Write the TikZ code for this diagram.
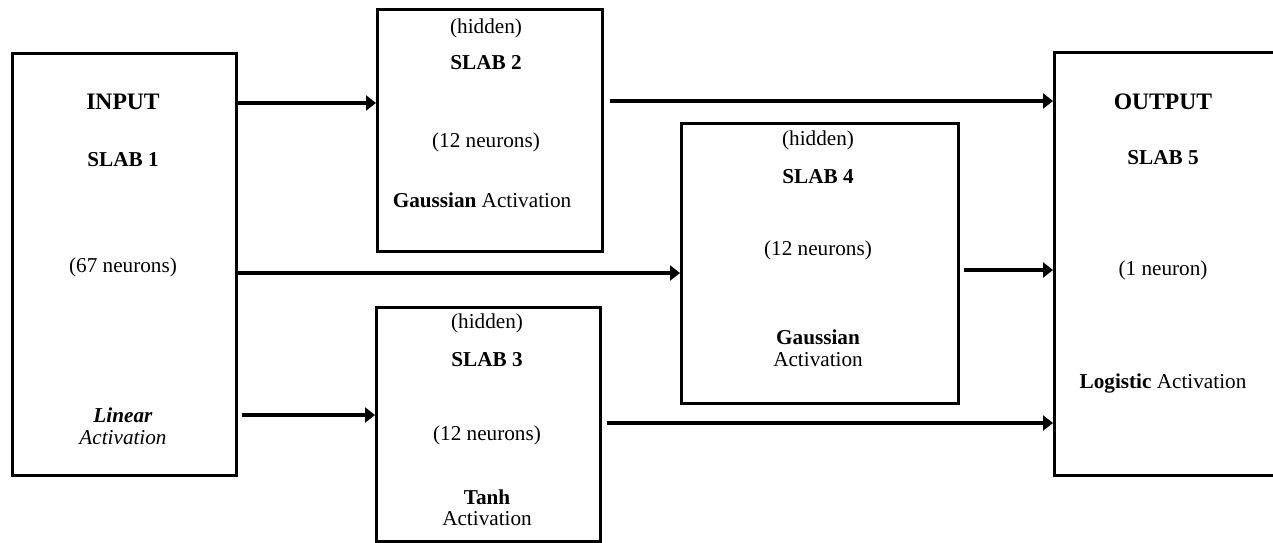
\documentclass[tikz,border=0pt]{standalone}
\usepackage{fontspec}
\setmainfont{Liberation Serif}
\usetikzlibrary{arrows.meta}
\begin{document}
\begin{tikzpicture}[x=0.5pt,y=-0.5pt,
  slab/.style={draw, line width=1.3pt, inner sep=0pt, anchor=north west},
  txt/.style={inner sep=0pt, anchor=center, font=\fontsize{10.6}{12.7}\selectfont, align=center},
  big/.style={inner sep=0pt, anchor=center, font=\fontsize{11.8}{14}\selectfont\bfseries},
  arr/.style={line width=2pt, -{Triangle[length=5pt,width=7.5pt]}}]
\useasboundingbox (0,0) rectangle (1273,542);
\clip (0,0) rectangle (1273,542);
% boxes
\node[slab, minimum width=112pt, minimum height=211pt] (b1) at (11,52) {};
\node[slab, minimum width=112.5pt, minimum height=121pt] (b2) at (376,8) {};
\node[slab, minimum width=112pt, minimum height=117pt] (b3) at (375,306) {};
\node[slab, minimum width=138.5pt, minimum height=140pt] (b4) at (680,122) {};
\node[slab, minimum width=113pt, minimum height=211.5pt] (b5) at (1053,51) {};
% box 1 text
\node[big] (t1a) at (123,102) {INPUT};
\node[txt] (t1b) at (123,160) {\textbf{SLAB 1}};
\node[txt] (t1c) at (123,267) {(67 neurons)};
\node[txt] (t1d) at (123,415) {\textbf{\textit{Linear}}};
\node[txt] (t1e) at (123,438) {\textit{Activation}};
% box 2 text
\node[txt] (t2a) at (486,28) {(hidden)};
\node[txt] (t2b) at (486,63) {\textbf{SLAB 2}};
\node[txt] (t2c) at (486,142) {(12 neurons)};
\node[txt] (t2d) at (482,200) {\textbf{Gaussian} Activation};
% box 3 text
\node[txt] (t3a) at (487,323) {(hidden)};
\node[txt] (t3b) at (487,360) {\textbf{SLAB 3}};
\node[txt] (t3c) at (487,435) {(12 neurons)};
\node[txt] (t3d) at (487,497) {\textbf{Tanh}};
\node[txt] (t3e) at (487,519) {Activation};
% box 4 text
\node[txt] (t4a) at (818,140) {(hidden)};
\node[txt] (t4b) at (818,177) {\textbf{SLAB 4}};
\node[txt] (t4c) at (818,250) {(12 neurons)};
\node[txt] (t4d) at (818,337) {\textbf{Gaussian}};
\node[txt] (t4e) at (818,360) {Activation};
% box 5 text
\node[big] (t5a) at (1163,102) {OUTPUT};
\node[txt] (t5b) at (1163,158) {\textbf{SLAB 5}};
\node[txt] (t5c) at (1163,270) {(1 neuron)};
\node[txt] (t5d) at (1163,383) {\textbf{Logistic} Activation};
% connectors
\draw[arr] (b1.east |- 0,103) -- (b2.west |- 0,103);
\draw[arr] (b1.east |- 0,273) -- (b4.west |- 0,273);
\draw[arr, shorten <=2pt] (b1.east |- 0,415) -- (b3.west |- 0,415);
\draw[arr, shorten <=3pt] (b2.east |- 0,101) -- (b5.west |- 0,101);
\draw[arr, shorten <=2pt] (b4.east |- 0,270) -- (b5.west |- 0,270);
\draw[arr, shorten <=2.5pt] (b3.east |- 0,423) -- (b5.west |- 0,423);
\end{tikzpicture}
\end{document}
